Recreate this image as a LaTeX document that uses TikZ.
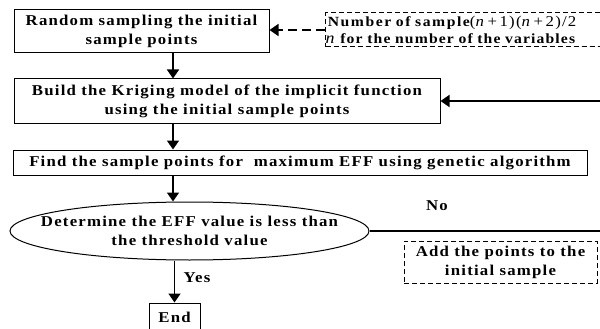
\documentclass[tikz,border=0pt]{standalone}
\usepackage{fontspec}
\setmainfont{Liberation Serif}[LetterSpace=8, FakeStretch=1.12]
\usetikzlibrary{arrows.meta,shapes.geometric,positioning}

\tikzset{
  stepbox/.style={draw, line width=1pt, align=center, inner sep=0pt,
    font=\bfseries\fontsize{15}{19}\selectfont},
  dashbox/.style={draw, dashed, dash pattern=on 5pt off 3pt, line width=1pt,
    inner sep=0pt, font=\bfseries\fontsize{15}{19}\selectfont},
  arr/.style={line width=1.6pt, -{Triangle[length=9pt,width=12pt]}},
  flowlabel/.style={font=\bfseries\fontsize{15}{17}\selectfont, inner sep=0pt}
}

\begin{document}
\begin{tikzpicture}[x=1pt,y=-1pt]

      % frame of the picture, 600 x 329
      \useasboundingbox (0,0) rectangle (600,329);
      \coordinate (spine) at (173,0);
      \coordinate (loop) at (612,0);

      % main chain of steps
      \node[stepbox, minimum width=255pt, minimum height=43pt] (init) at (141.5,31.5)
        {Random sampling the initial\\sample points};
      \node[stepbox, minimum width=426pt, minimum height=44pt] (krig) at (227,101)
        {Build the Kriging model of the implicit function\\using the initial sample points};
      \node[stepbox, minimum width=574pt, minimum height=25pt] (find) at (300,162.5)
        {Find the sample points for\ \ maximum EFF using genetic algorithm};
      \node[stepbox, ellipse, inner xsep=-60pt, inner ysep=-10pt,
        minimum width=359pt, minimum height=58pt] (judge) at (189.5,231)
        {Determine the EFF value is less than\\the threshold value};
      \node[stepbox, minimum width=51pt, minimum height=28pt] (stop) at (174.5,317) {End};

      % side notes
      \node[dashbox, anchor=west, minimum height=34pt, text width=320pt, align=left,
        font=\bfseries\fontsize{14}{17}\selectfont] (note) at (325,30)
        {\,{\addfontfeature{LetterSpace=11}Number of sample}{\mdseries\fontsize{15}{15}\selectfont(\textit{n}\,+\,1)(\textit{n}\,+\,2)/2}\\
         {\mdseries\fontsize{16}{15}\selectfont\textit{n}}\ for the number of the variables};
      \node[dashbox, align=center, minimum width=193pt, minimum height=42pt] (add) at (500.5,262)
        {Add the points to the\\initial sample};

      \node[flowlabel] (no) at (437,206) {No};
      \node[flowlabel] (yes) at (197,278) {Yes};

      % connectors
      \draw[arr] (init.south -| spine) -- (krig.north -| spine);
      \draw[arr] (krig.south -| spine) -- (find.north -| spine);
      \draw[arr] (find.south -| spine) -- (judge.north -| spine);
      \draw[arr] (judge.south -| stop) -- (stop.north);
      \draw[arr, dashed, dash pattern=on 9pt off 5pt] (note.west) -- (note.west -| init.east);
      \draw[arr] (judge.east) -- (judge.east -| loop) -- (krig.east -| loop) -- (krig.east);

    \end{tikzpicture}
\end{document}
